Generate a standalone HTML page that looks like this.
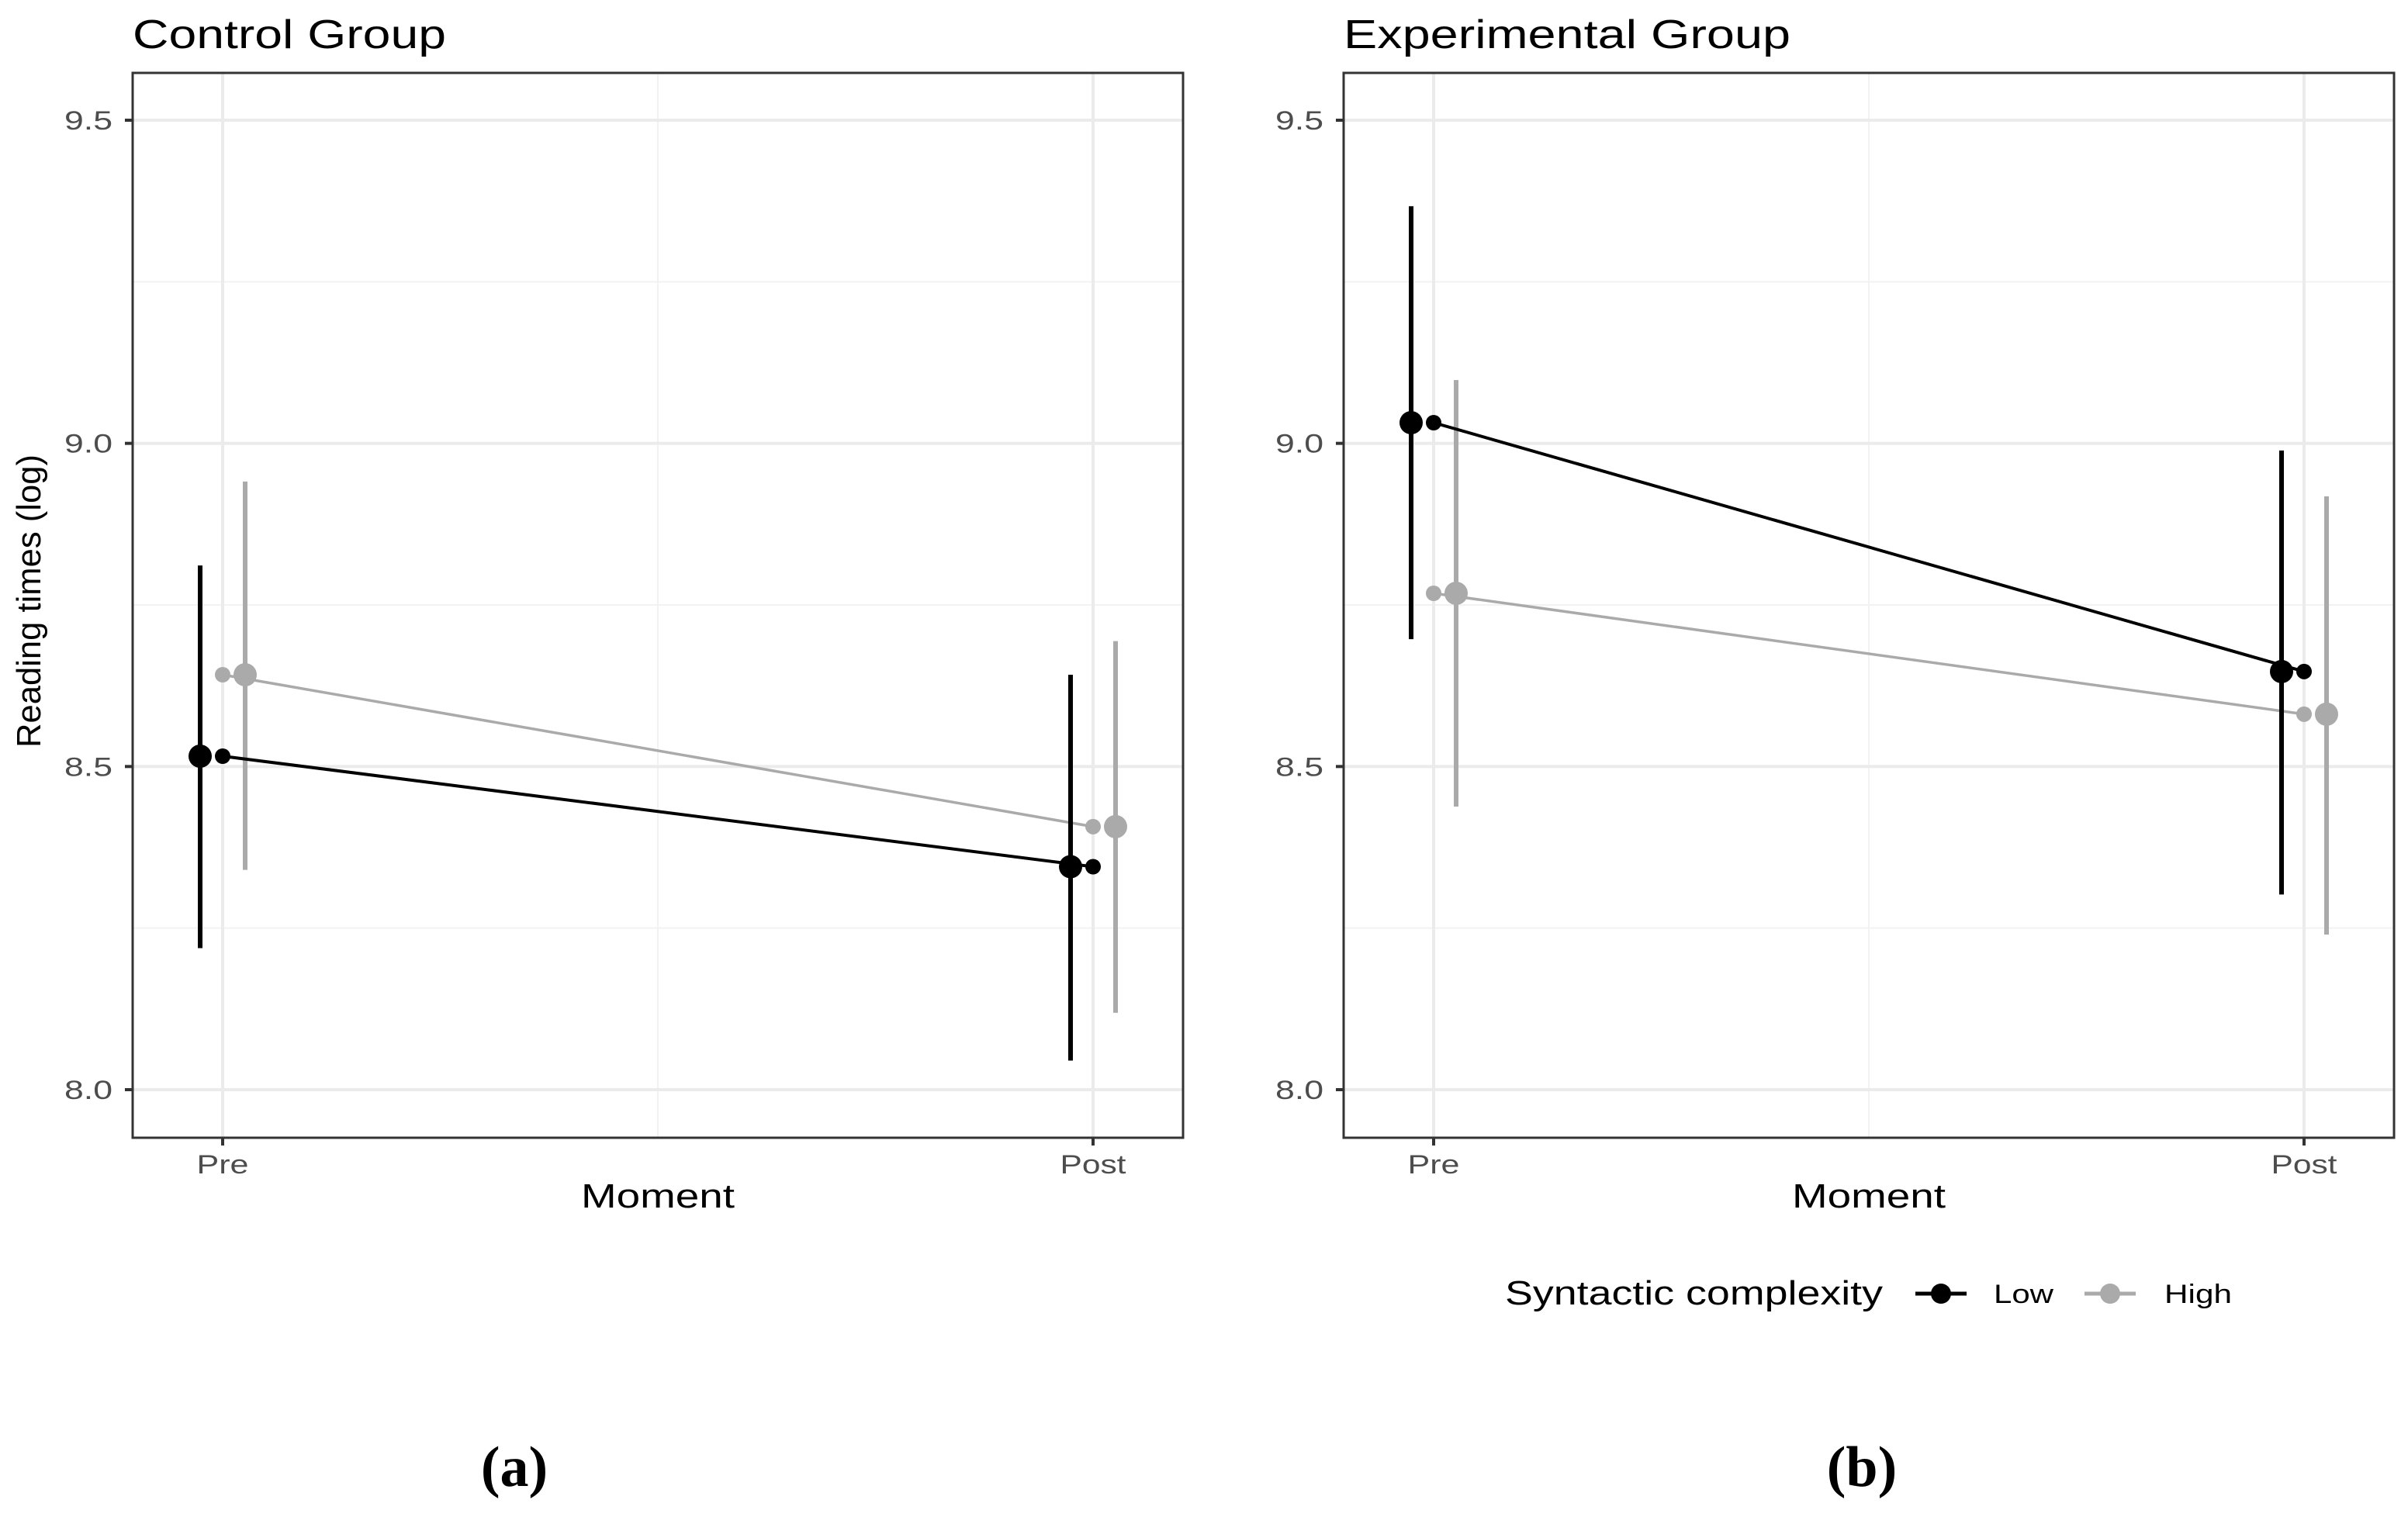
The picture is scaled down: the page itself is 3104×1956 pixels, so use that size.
<!DOCTYPE html>
<html><head><meta charset="utf-8"><style>
html,body{margin:0;padding:0;background:#fff;}
svg{display:block;font-family:"Liberation Sans",sans-serif;}
</style></head><body>
<svg id="chart" width="3104" height="1956" viewBox="0 0 3104 1956" xmlns="http://www.w3.org/2000/svg"></svg>
<script>
const panels = ["Control Group", "Experimental Group"];
const moments = ["Pre", "Post"];
const groups = ["Low", "High"];
const yTicks = [8.0, 8.5, 9.0, 9.5];
const yTickLabels = ["8.0", "8.5", "9.0", "9.5"];
const meanControlLow = [8.516, 8.345];
const meanControlHigh = [8.642, 8.407];
const meanExpLow = [9.032, 8.647];
const meanExpHigh = [8.768, 8.581];
const lowerControlLow = [8.219, 8.045];
const upperControlLow = [8.811, 8.642];
const lowerControlHigh = [8.340, 8.119];
const upperControlHigh = [8.941, 8.694];
const lowerExpLow = [8.697, 8.302];
const upperExpLow = [9.367, 8.989];
const lowerExpHigh = [8.438, 8.240];
const upperExpHigh = [9.098, 8.918];

const NS = "http://www.w3.org/2000/svg";
const svg = document.getElementById("chart");
function el(tag, attrs, parent, text){
  const e = document.createElementNS(NS, tag);
  for (const k in attrs) e.setAttribute(k, attrs[k]);
  if (text !== undefined) e.textContent = text;
  (parent || svg).appendChild(e);
  return e;
}
function stretch(e, w){
  e.setAttribute("textLength", w);
  e.setAttribute("lengthAdjust", "spacingAndGlyphs");
}
const colors = {Low:"#000000", High:"#aaaaaa"};
const data = [
  {Low:{m:meanControlLow,lo:lowerControlLow,hi:upperControlLow}, High:{m:meanControlHigh,lo:lowerControlHigh,hi:upperControlHigh}},
  {Low:{m:meanExpLow,lo:lowerExpLow,hi:upperExpLow}, High:{m:meanExpHigh,lo:lowerExpHigh,hi:upperExpHigh}}
];
const panelOffset = 1561;
const dodge = {Low:-29, High:29};
const titleWidths = [404, 576];

panels.forEach((title, p) => {
  const ox = p * panelOffset;
  const L = 171 + ox, R = 1525 + ox, T = 94, B = 1467;
  const y = v => 1405 - (v - 8.0) * (1405 - 155) / 1.5;
  const x = i => [287, 1409][i] + ox;
  const g = el("g", {}, svg);
  
  
  const t = el("text", {x:L, y:62, "font-size":52, fill:"#000"}, g, title);
  stretch(t, titleWidths[p]);
  
  
  [8.25, 8.75, 9.25].forEach(v => {
    el("line", {x1:L, x2:R, y1:y(v), y2:y(v), stroke:"#f2f2f2", "stroke-width":2}, g);
  });
  el("line", {x1:(x(0)+x(1))/2, x2:(x(0)+x(1))/2, y1:T, y2:B, stroke:"#f2f2f2", "stroke-width":2}, g);
  yTicks.forEach((v, i) => {
    el("line", {x1:L, x2:R, y1:y(v), y2:y(v), stroke:"#ebebeb", "stroke-width":4}, g);
    el("line", {x1:L-10, x2:L, y1:y(v), y2:y(v), stroke:"#333", "stroke-width":4}, g);
    const lb = el("text", {x:L-88, y:y(v)+12, "font-size":34, fill:"#4d4d4d"}, g, yTickLabels[i]);
    stretch(lb, 62);
    
    
  });
  moments.forEach((m, i) => {
    el("line", {x1:x(i), x2:x(i), y1:T, y2:B, stroke:"#ebebeb", "stroke-width":4}, g);
    el("line", {x1:x(i), x2:x(i), y1:B, y2:B+10, stroke:"#333", "stroke-width":4}, g);
    const w = m === "Pre" ? 67 : 85;
    const lb = el("text", {x:x(i) - w/2, y:1513, "font-size":34, fill:"#4d4d4d"}, g, m);
    stretch(lb, w);
    
    
  });
  const frame = el("rect", {x:L, y:T, width:R-L, height:B-T, fill:"none", stroke:"#333", "stroke-width":3}, g);
  
  
  const xt = el("text", {x:(L+R)/2 - 99, y:1557, "font-size":44, fill:"#000"}, g, "Moment");
  stretch(xt, 198);
  
  

  ["High", "Low"].forEach(gr => {
    const d = data[p][gr], c = colors[gr];
    const ln = el("line", {x1:x(0), y1:y(d.m[0]), x2:x(1), y2:y(d.m[1]), stroke:c, "stroke-width":gr==="Low"?4:3.5}, g);
    
    
    moments.forEach((m, i) => {
      const xd = x(i) + dodge[gr];
      const eb = el("line", {x1:xd, x2:xd, y1:y(d.lo[i]), y2:y(d.hi[i]), stroke:c, "stroke-width":6}, g);
      
      
      const bp = el("circle", {cx:xd, cy:y(d.m[i]), r:15, fill:c}, g);
      
      
      const sp = el("circle", {cx:x(i), cy:y(d.m[i]), r:10, fill:c}, g);
      
      
    });
  });
  const cap = el("text", {x:p===0?663:2400, y:1916, "font-size":74, "font-weight":"bold", "font-family":"Liberation Serif, serif", "text-anchor":"middle", fill:"#000"}, svg, p===0?"(a)":"(b)");
  
  
});

const yt = el("text", {transform:"translate(52,964) rotate(-90)", "font-size":44, fill:"#000"}, svg, "Reading times (log)");
stretch(yt, 378);



const lg = el("g", {}, svg);


const lgt = el("text", {x:1940, y:1682, "font-size":44, fill:"#000"}, lg, "Syntactic complexity");
stretch(lgt, 487);


[["Low", 2469, 2570, 77], ["High", 2687, 2790, 87]].forEach(([gr, kx, tx, w]) => {
  const k = el("g", {}, lg);
  
  
  el("line", {x1:kx, x2:kx+66, y1:1668, y2:1668, stroke:colors[gr], "stroke-width":5}, k);
  el("circle", {cx:kx+33, cy:1668, r:13, fill:colors[gr]}, k);
  const lt = el("text", {x:tx, y:1680, "font-size":34, fill:"#000"}, k, gr);
  stretch(lt, w);
});
</script>
</body></html>
